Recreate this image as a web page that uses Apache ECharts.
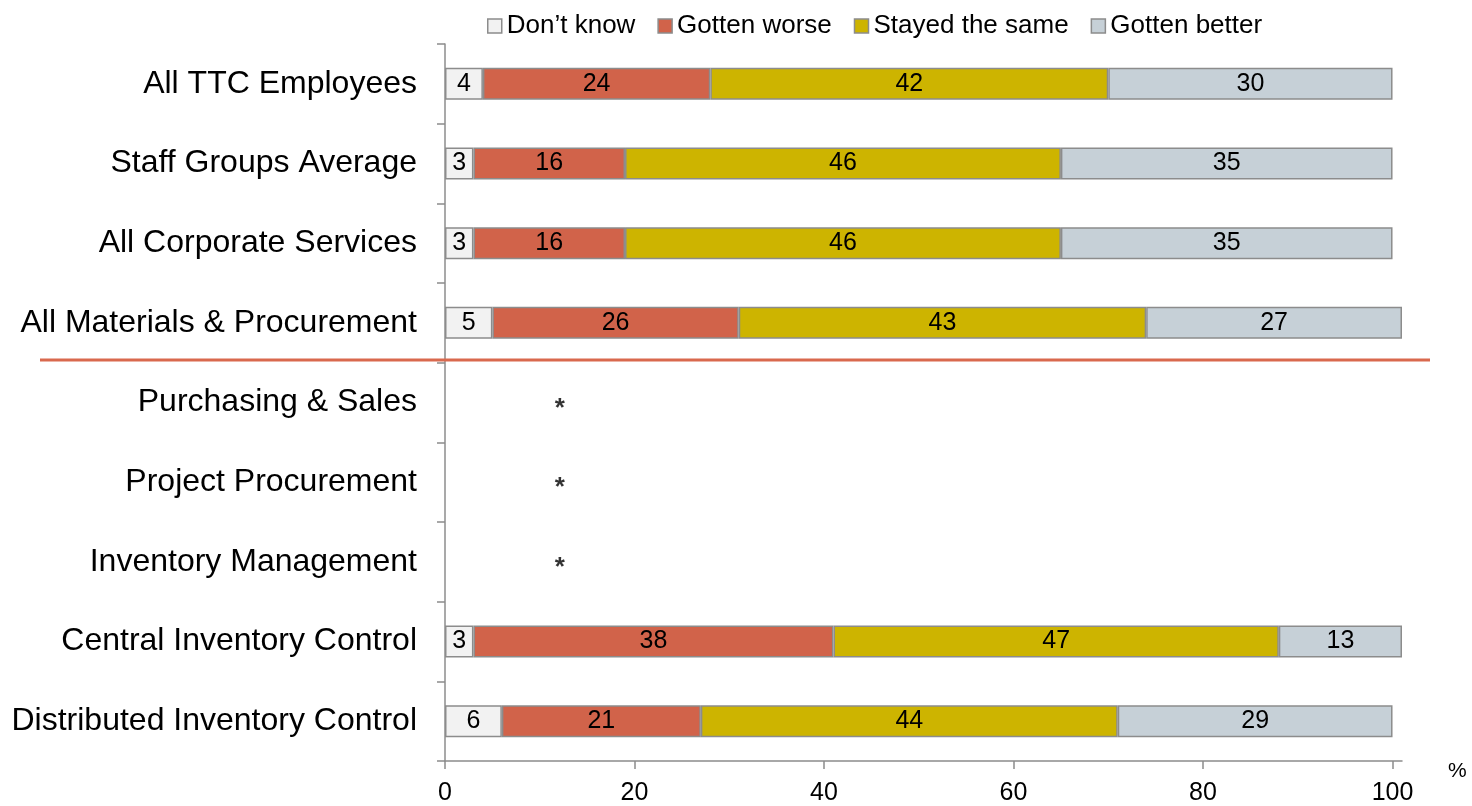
<!DOCTYPE html>
<html>
<head>
<meta charset="utf-8">
<script src="https://cdn.jsdelivr.net/npm/echarts@6/dist/echarts.min.js"></script>
<style>
  html, body {margin: 0; padding: 0; background: #fff;}
  #main {width: 1472px; height: 806px;}
</style>
</head>
<body>
<div id="main"></div>
<script>
// ---------- data ----------
var categories = [
  'All TTC Employees',
  'Staff Groups Average',
  'All Corporate Services',
  'All Materials & Procurement',
  'Purchasing & Sales',
  'Project Procurement',
  'Inventory Management',
  'Central Inventory Control',
  'Distributed Inventory Control'
];
var seriesNames = ['Don\u2019t know', 'Gotten worse', 'Stayed the same', 'Gotten better'];
var dontKnow = [4, 3, 3, 5, '-', '-', '-', 3, 6];
var worse    = [24, 16, 16, 26, '-', '-', '-', 38, 21];
var same     = [42, 46, 46, 43, '-', '-', '-', 47, 44];
var better   = [30, 35, 35, 27, '-', '-', '-', 13, 29];
// rows with too few answers, marked with *
var starRows = ['Purchasing & Sales', 'Project Procurement', 'Inventory Management'];
var starValue = 12;
var xTicks = [0, 20, 40, 60, 80, 100];

var colorList = ['#F2F2F2', '#D1634A', '#CDB400', '#C6D0D7'];
var font = 'Liberation Sans, Arial, sans-serif';

var chart = echarts.init(document.getElementById('main'));

function barSeries(name, data, color) {
  return {
    name: name,
    type: 'bar',
    stack: 'total',
    barWidth: 32,
    clip: false,
    itemStyle: {color: color, borderColor: '#8C8C8C', borderWidth: 1.5},
    label: {
      show: true,
      position: 'inside',
      color: '#000',
      fontFamily: font,
      fontSize: 25
    },
    data: data
  };
}

var option = {
  backgroundColor: '#fff',
  animation: false,
  textStyle: {fontFamily: font},
  legend: {
    top: 8,
    left: 482,
    itemWidth: 14,
    itemHeight: 14,
    itemGap: 22,
    icon: 'rect',
    textStyle: {fontSize: 26, color: '#000', fontFamily: font},
    data: seriesNames.map(function (n, i) {
      return {name: n, itemStyle: {color: colorList[i], borderColor: '#8C8C8C', borderWidth: 1.5}};
    })
  },
  grid: {left: 445, right: 70, top: 44, bottom: 44, containLabel: false},
  xAxis: {
    type: 'value',
    min: 0,
    max: 101,
    interval: 20,
    name: '%',
    nameLocation: 'end',
    nameGap: 46,
    nameTextStyle: {fontSize: 21, color: '#000', fontFamily: font, verticalAlign: 'top'},
    axisLine: {show: true, lineStyle: {color: '#8C8C8C', width: 1.5}},
    axisTick: {show: true, length: 8, customValues: xTicks, lineStyle: {color: '#8C8C8C', width: 1.5}},
    axisLabel: {customValues: xTicks, fontSize: 25, color: '#000', margin: 20, fontFamily: font},
    splitLine: {show: false}
  },
  yAxis: {
    type: 'category',
    inverse: true,
    data: categories,
    axisLine: {show: true, lineStyle: {color: '#8C8C8C', width: 1.5}},
    axisTick: {show: true, length: 8, lineStyle: {color: '#8C8C8C', width: 1.5}},
    axisLabel: {fontSize: 32, color: '#000', margin: 28, fontFamily: font}
  },
  series: [
    barSeries(seriesNames[0], dontKnow, colorList[0]),
    barSeries(seriesNames[1], worse, colorList[1]),
    barSeries(seriesNames[2], same, colorList[2]),
    barSeries(seriesNames[3], better, colorList[3]),
    {
      name: 'note',
      type: 'scatter',
      symbol: 'circle',
      symbolSize: 1,
      silent: true,
      itemStyle: {color: 'rgba(0,0,0,0)'},
      label: {
        show: true,
        position: 'inside',
        formatter: '*',
        color: '#000',
        fontSize: 26,
        fontWeight: 'bold',
        fontFamily: font,
        offset: [1, 6]
      },
      data: starRows.map(function (c) { return [starValue, c]; })
    }
  ],
  // red separator between summary rows and unit rows
  graphic: [{
    type: 'line',
    shape: {x1: 40, y1: 360, x2: 1430, y2: 360},
    style: {stroke: '#D9694E', lineWidth: 3},
    z: 10
  }]
};

chart.setOption(option);
</script>
</body>
</html>
